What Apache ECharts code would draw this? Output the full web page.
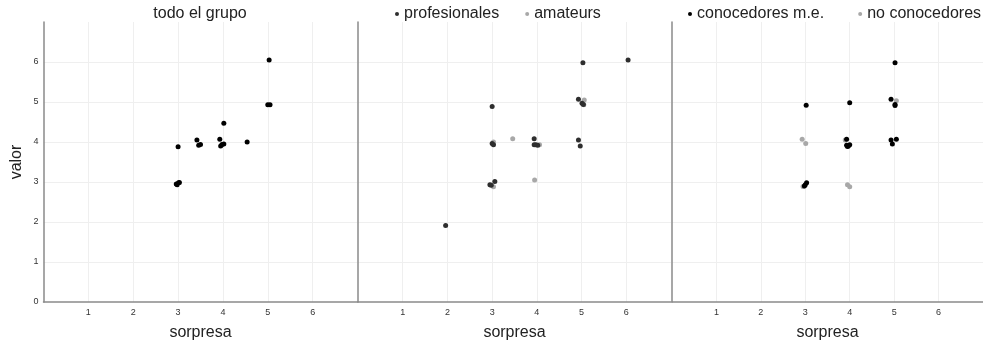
<!DOCTYPE html>
<html><head><meta charset="utf-8">
<script src="https://cdn.jsdelivr.net/npm/echarts@6/dist/echarts.min.js"></script>
<style>html,body{margin:0;padding:0;background:#fff}#c{width:983px;height:342px}</style>
</head><body><div id="c"></div>
<script>
// panel 1: todo el grupo [sorpresa, valor]
const todoGrupo = [[5.03,6.05],[5.0,4.93],[5.05,4.93],[4.02,4.47],[3.42,4.05],[3.46,3.92],[3.5,3.94],[3.0,3.88],[3.93,4.07],[3.95,3.9],[3.98,3.94],[4.02,3.95],[4.54,4.0],[2.98,2.93],[3.01,2.98],[2.96,2.95],[3.03,2.99]];
// panel 2
const profesionales = [[5.03,5.98],[6.04,6.05],[4.93,5.07],[5.01,4.97],[5.04,4.94],[3.0,4.89],[3.94,4.08],[3.94,3.93],[3.98,3.93],[4.02,3.92],[3.0,3.96],[3.03,3.93],[4.93,4.05],[4.97,3.9],[2.95,2.93],[3.06,3.01],[2.98,2.92],[1.96,1.91]];
const amateurs = [[5.06,5.05],[5.05,4.93],[3.46,4.08],[4.06,3.93],[3.03,4.0],[3.95,3.05],[3.03,2.88]];
// panel 3
const conocedores = [[5.02,5.98],[4.93,5.07],[5.02,4.94],[5.02,4.91],[3.02,4.92],[4.0,4.98],[3.93,4.07],[3.93,3.92],[3.97,3.9],[4.0,3.93],[3.95,3.89],[4.93,4.05],[4.96,3.95],[5.05,4.07],[3.0,2.93],[3.03,2.98],[2.98,2.9]];
const noConocedores = [[5.05,5.03],[2.93,4.07],[3.01,3.96],[3.9,4.05],[2.95,2.89],[3.95,2.93],[4.0,2.88]];
const xTicks = [1,2,3,4,5,6];

const FONT = 'Liberation Sans';
const axisLineStyle = {color:'#8a8a8a', width:1.5};
const G = '#efefef', T = 'rgba(0,0,0,0)';
const gridColors = [T,G,G,G,G,G,G,T];
const grids = [
  {left:43.5, top:22, width:314, height:280, outerBoundsMode:'none'},
  {left:358, top:22, width:313, height:280, outerBoundsMode:'none'},
  {left:672, top:22, width:311, height:280, outerBoundsMode:'none'}
];
const xAxes = grids.map((g,i)=>({
  type:'value', gridIndex:i, min:0, max:7, interval:1,
  name:'sorpresa', nameLocation:'middle', nameGap:23,
  nameTextStyle:{fontFamily:FONT, fontSize:16, color:'#222'},
  axisLine:{show:true, onZero:false, lineStyle:axisLineStyle},
  axisTick:{show:false},
  axisLabel:{fontFamily:FONT, fontSize:9, color:'#333', margin:6,
    formatter:v=> xTicks.includes(v) ? String(v) : ''},
  splitLine:{show:true, lineStyle:{color:gridColors, width:1}}
}));
const yAxes = grids.map((g,i)=>({
  type:'value', gridIndex:i, min:0, max:7, interval:1,
  name: i===0 ? 'valor' : '', nameLocation:'middle', nameGap:19,
  nameTextStyle:{fontFamily:FONT, fontSize:16, color:'#222'},
  axisLine:{show:true, onZero:false, lineStyle:axisLineStyle},
  axisTick:{show:false},
  axisLabel:{show:i===0, fontFamily:FONT, fontSize:9, color:'#333', margin:5,
    formatter:v=> v<=6 ? String(v) : ''},
  splitLine:{show:true, lineStyle:{color:gridColors, width:1}}
}));
const sc = (name, data, i, color) => ({
  type:'scatter', name, data, xAxisIndex:i, yAxisIndex:i,
  symbolSize:5, itemStyle:{color, opacity:1}, silent:true
});
const legendBase = {top:6, padding:0, width:320, itemWidth:4, itemHeight:4, icon:'circle',
  textStyle:{fontFamily:FONT, fontSize:16, color:'#222'}};
const option = {
  animation:false,
  title:{text:'todo el grupo', left:200, top:6, padding:0, textAlign:'center',
    textStyle:{fontFamily:FONT, fontSize:16, fontWeight:'normal', color:'#222'}},
  legend:[
    Object.assign({}, legendBase, {left:395, itemGap:26, data:['profesionales','amateurs']}),
    Object.assign({}, legendBase, {left:688, itemGap:34, data:['conocedores m.e.','no conocedores']})
  ],
  grid:grids, xAxis:xAxes, yAxis:yAxes,
  series:[
    sc('todo', todoGrupo, 0, '#000'),
    sc('amateurs', amateurs, 1, '#a8a8a8'),
    sc('profesionales', profesionales, 1, '#2e2e2e'),
    sc('no conocedores', noConocedores, 2, '#a8a8a8'),
    sc('conocedores m.e.', conocedores, 2, '#000')
  ]
};
const chart = echarts.init(document.getElementById('c'), null, {renderer:'canvas'});
chart.setOption(option);
</script></body></html>
